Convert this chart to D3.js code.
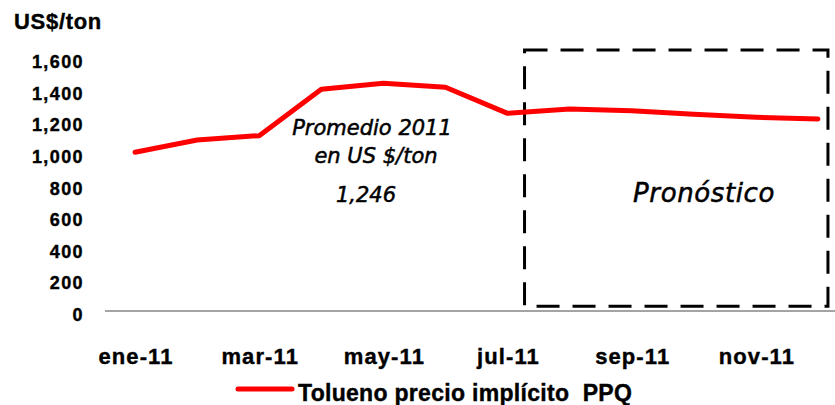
<!DOCTYPE html>
<html>
<head>
<meta charset="utf-8">
<script src="https://cdn.jsdelivr.net/npm/d3@7"></script>
<style>
  body { margin: 0; background: #fff; }
  text { font-family: "Liberation Sans", Arial, sans-serif; fill: #000; }
  text.heavy { stroke: #000; stroke-width: 0.4; }
  text.note { font-family: "DejaVu Sans", sans-serif; font-style: italic; stroke: #000; stroke-width: 0.5; }
</style>
</head>
<body>
<script>
var width = 835, height = 405;

var months = ["ene-11","feb-11","mar-11","abr-11","may-11","jun-11","jul-11","ago-11","sep-11","oct-11","nov-11","dic-11"],
    prices = [1004, 1081, 1109, 1402, 1440, 1415, 1250, 1277, 1267, 1244, 1225, 1214],
    yTicks = [0, 200, 400, 600, 800, 1000, 1200, 1400, 1600],
    xLabels = ["ene-11","mar-11","may-11","jul-11","sep-11","nov-11"],
    forecastFrom = "jul-11", forecastTo = "dic-11",
    seriesName = "Tolueno precio implícito  PPQ",
    avgLabel = ["Promedio 2011", "en US $/ton"], avgValue = 1246;

var fmt = d3.format(",");

var svg = d3.select("body").append("svg")
    .attr("width", width).attr("height", height);

var x = d3.scaleBand().domain(months).range([104, 849]),
    y = d3.scaleLinear().domain([0, 1600]).range([311, 58]);

var xc = function(d) { return x(d) + x.bandwidth() / 2; };

// y title
svg.append("text").attr("class", "heavy")
    .attr("x", 14).attr("y", 29)
    .attr("font-size", 22).attr("font-weight", "bold")
    .attr("letter-spacing", 0.7)
    .text("US$/ton");

// y axis labels
svg.selectAll(".ytick")
    .data(yTicks)
  .enter().append("text")
    .attr("class", "ytick heavy")
    .attr("x", 84)
    .attr("y", function(d) { return y(d) + 10; })
    .attr("text-anchor", "end")
    .attr("font-size", 18).attr("font-weight", "bold")
    .attr("letter-spacing", 1.4)
    .text(function(d) { return fmt(d); });

// x axis line
svg.append("line")
    .attr("x1", 105).attr("x2", width)
    .attr("y1", y(0)).attr("y2", y(0))
    .attr("stroke", "#868686").attr("stroke-width", 1.5);

svg.selectAll(".xtick")
    .data(xLabels)
  .enter().append("text")
    .attr("class", "xtick heavy")
    .attr("x", function(d) { return xc(d) + 1; })
    .attr("y", 364)
    .attr("text-anchor", "middle")
    .attr("font-size", 22).attr("font-weight", "bold")
    .attr("letter-spacing", 1.1)
    .text(function(d) { return d; });

// forecast box
var bx0 = xc(forecastFrom) + 17, bx1 = xc(forecastTo) + 10;
svg.append("rect")
    .attr("x", bx0).attr("y", y(1650))
    .attr("width", bx1 - bx0).attr("height", y(30) - y(1650))
    .attr("fill", "none").attr("stroke", "#000")
    .attr("stroke-width", 3)
    .attr("stroke-dasharray", "23,13");

// price line
var line = d3.line()
    .x(function(d, i) { return xc(months[i]); })
    .y(function(d) { return y(d); });

svg.append("path")
    .datum(prices)
    .attr("d", line)
    .attr("fill", "none")
    .attr("stroke", "#ff0000")
    .attr("stroke-width", 5)
    .attr("stroke-linejoin", "round")
    .attr("stroke-linecap", "round");

// annotations
var note = function(px, py, size, txt) {
  return svg.append("text").attr("class", "note")
    .attr("x", px).attr("y", py)
    .attr("font-size", size)
    .attr("text-anchor", "middle")
    .text(txt);
};
note(372, 135, 21, avgLabel[0]);
note(376, 163, 21, avgLabel[1]);
note(366, 202, 21, fmt(avgValue));
note(704, 202, 26, "Pronóstico").attr("letter-spacing", 0.6);

// legend
svg.append("line")
    .attr("x1", 238).attr("x2", 292)
    .attr("y1", 389).attr("y2", 389)
    .attr("stroke", "#ff0000").attr("stroke-width", 5)
    .attr("stroke-linecap", "round");
svg.append("text").attr("class", "heavy")
    .attr("x", 298).attr("y", 401)
    .attr("font-size", 23).attr("font-weight", "bold")
    .attr("letter-spacing", 0.3)
    .style("white-space", "pre")
    .text(seriesName);
</script>
</body>
</html>
